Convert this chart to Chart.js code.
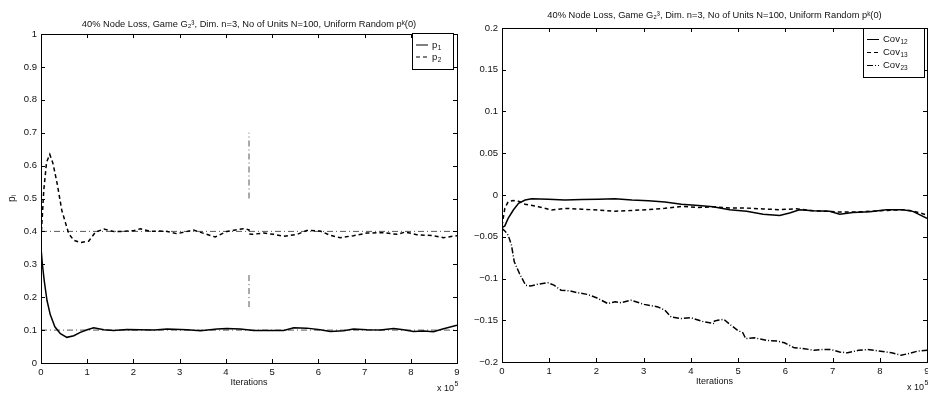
<!DOCTYPE html>
<html>
<head>
<meta charset="utf-8">
<script src="https://cdn.jsdelivr.net/npm/chart.js@4.4.0/dist/chart.umd.min.js"></script>
<style>
  html, body { margin: 0; padding: 0; background: #fff; }
  #wrap { position: relative; width: 928px; height: 395px; overflow: hidden; }
  #left { position: absolute; left: 0; top: 0; }
  #right { position: absolute; left: 464px; top: 0; }
</style>
</head>
<body>
<div id="wrap">
  <canvas id="left" width="464" height="395"></canvas>
  <canvas id="right" width="470" height="395"></canvas>
</div>
<script>
// iterations are in units of 1e5
const titleText = "40% Node Loss, Game G\u2082\u00B3, Dim. n=3, No of Units N=100, Uniform Random p\u1D4F(0)";

const p1Iter = [0, 0.03, 0.07, 0.13, 0.2, 0.3, 0.42, 0.56, 0.71, 0.85, 1.0, 1.14, 1.36, 1.57, 1.86, 2.15, 2.45, 2.73, 3.16, 3.45, 3.81, 4.02, 4.31, 4.6, 4.89, 5.25, 5.47, 5.75, 6.04, 6.26, 6.55, 6.76, 7.05, 7.34, 7.63, 7.84, 8.06, 8.28, 8.49, 8.71, 9];
const p1Vals = [0.35, 0.30, 0.25, 0.19, 0.147, 0.11, 0.089, 0.078, 0.083, 0.093, 0.101, 0.107, 0.101, 0.099, 0.102, 0.101, 0.100, 0.103, 0.101, 0.098, 0.103, 0.105, 0.103, 0.099, 0.099, 0.099, 0.107, 0.106, 0.101, 0.096, 0.098, 0.103, 0.101, 0.100, 0.105, 0.101, 0.096, 0.097, 0.095, 0.104, 0.115];

const p2Iter = [0, 0.03, 0.06, 0.12, 0.19, 0.26, 0.35, 0.45, 0.6, 0.71, 0.85, 1.03, 1.18, 1.36, 1.57, 1.79, 2.0, 2.15, 2.36, 2.55, 2.73, 2.94, 3.1, 3.3, 3.52, 3.77, 4.02, 4.2, 4.38, 4.5, 4.5, 4.56, 4.82, 5.03, 5.25, 5.54, 5.75, 6.04, 6.26, 6.47, 6.76, 7.05, 7.41, 7.7, 7.88, 8.13, 8.49, 8.71, 9];
const p2Vals = [0.38, 0.45, 0.525, 0.61, 0.634, 0.606, 0.545, 0.464, 0.393, 0.373, 0.366, 0.37, 0.398, 0.407, 0.4, 0.4, 0.402, 0.408, 0.4, 0.401, 0.4, 0.393, 0.398, 0.404, 0.394, 0.383, 0.4, 0.404, 0.408, 0.405, 0.392, 0.391, 0.395, 0.391, 0.385, 0.391, 0.403, 0.401, 0.388, 0.381, 0.387, 0.395, 0.396, 0.391, 0.398, 0.39, 0.387, 0.381, 0.387];

const targetP = [0.1, 0.4];
const lossIter = 4.5;
const lossMarkers = [[0.5, 0.7], [0.17, 0.27]];

const cov12Iter = [0, 0.06, 0.13, 0.24, 0.35, 0.49, 0.63, 0.98, 1.33, 1.69, 2.04, 2.39, 2.75, 3.1, 3.45, 3.8, 4.16, 4.47, 4.82, 5.18, 5.53, 5.88, 6.09, 6.3, 6.59, 6.94, 7.15, 7.43, 7.79, 8.14, 8.49, 8.7, 9];
const cov12Vals = [-0.039, -0.037, -0.028, -0.018, -0.01, -0.006, -0.0045, -0.005, -0.006, -0.0055, -0.005, -0.0045, -0.006, -0.007, -0.0085, -0.011, -0.0125, -0.014, -0.0176, -0.0196, -0.023, -0.0245, -0.0216, -0.0176, -0.019, -0.0196, -0.023, -0.021, -0.02, -0.0176, -0.0176, -0.0196, -0.028];

const cov13Iter = [0, 0.06, 0.13, 0.24, 0.35, 0.49, 0.77, 1.05, 1.33, 1.69, 2.04, 2.39, 2.75, 3.1, 3.45, 3.8, 4.16, 4.47, 4.82, 5.18, 5.53, 5.88, 6.23, 6.59, 6.94, 7.15, 7.43, 7.79, 8.14, 8.49, 8.7, 9];
const cov13Vals = [-0.037, -0.016, -0.008, -0.0065, -0.0075, -0.011, -0.014, -0.018, -0.016, -0.017, -0.018, -0.0195, -0.0185, -0.0175, -0.016, -0.0136, -0.015, -0.014, -0.0155, -0.0157, -0.0167, -0.0176, -0.0165, -0.019, -0.0196, -0.0205, -0.0205, -0.0196, -0.0185, -0.0176, -0.019, -0.024];

const cov23Iter = [0, 0.06, 0.13, 0.2, 0.26, 0.37, 0.5, 0.61, 0.75, 0.97, 1.1, 1.25, 1.45, 1.6, 1.8, 2.0, 2.24, 2.4, 2.52, 2.73, 3.01, 3.3, 3.45, 3.58, 3.8, 4.0, 4.28, 4.5, 4.5, 4.57, 4.7, 4.85, 4.99, 5.1, 5.16, 5.34, 5.6, 5.84, 5.98, 6.19, 6.4, 6.61, 6.8, 6.96, 7.15, 7.32, 7.55, 7.74, 8.02, 8.25, 8.45, 8.6, 8.8, 9];
const cov23Vals = [-0.04, -0.043, -0.048, -0.06, -0.08, -0.094, -0.108, -0.109, -0.107, -0.105, -0.108, -0.114, -0.115, -0.117, -0.119, -0.123, -0.13, -0.128, -0.129, -0.126, -0.131, -0.134, -0.138, -0.146, -0.148, -0.147, -0.152, -0.154, -0.151, -0.150, -0.149, -0.156, -0.162, -0.165, -0.172, -0.171, -0.174, -0.175, -0.177, -0.183, -0.184, -0.186, -0.185, -0.185, -0.188, -0.189, -0.186, -0.185, -0.187, -0.189, -0.192, -0.19, -0.187, -0.186];

const FONT = '"Liberation Sans", Arial, sans-serif';
const INK = '#111';
Chart.defaults.font.family = FONT;
Chart.defaults.color = INK;

function pts(xs, ys) {
  return xs.map((x, i) => ({ x: x, y: ys[i] }));
}

// MATLAB-like tick text: 1 not 1.0, real minus sign
function tickText(v) {
  return String(Number(v.toFixed(2))).replace('-', '\u2212');
}

// box around the plot, ticks pointing inwards, and the x 10^5 note
const frame = {
  id: 'frame',
  afterDatasetsDraw(chart) {
    const { ctx, chartArea: a, scales: { x, y } } = chart;
    ctx.save();
    ctx.strokeStyle = '#000';
    ctx.lineWidth = 1;
    ctx.setLineDash([]);
    ctx.strokeRect(Math.round(a.left) + 0.5, Math.round(a.top) + 0.5, Math.round(a.width), Math.round(a.height));
    ctx.beginPath();
    x.ticks.forEach(t => {
      const px = Math.round(x.getPixelForValue(t.value)) + 0.5;
      ctx.moveTo(px, a.bottom); ctx.lineTo(px, a.bottom - 4);
      ctx.moveTo(px, a.top); ctx.lineTo(px, a.top + 4);
    });
    y.ticks.forEach(t => {
      const py = Math.round(y.getPixelForValue(t.value)) + 0.5;
      ctx.moveTo(a.left, py); ctx.lineTo(a.left + 4, py);
      ctx.moveTo(a.right, py); ctx.lineTo(a.right - 4, py);
    });
    ctx.stroke();
    ctx.fillStyle = INK;
    ctx.textBaseline = 'alphabetic';
    ctx.font = '9px ' + FONT;
    const bx = a.right - 20, by = a.bottom + 28;
    ctx.fillText('x 10', bx, by);
    const w = ctx.measureText('x 10').width;
    ctx.font = '7px ' + FONT;
    ctx.fillText('5', bx + w + 0.5, by - 5);
    ctx.restore();
  }
};

// legend box inside the top right corner
const boxLegend = {
  id: 'boxLegend',
  afterDatasetsDraw(chart, args, opts) {
    const { ctx, chartArea: a } = chart;
    const items = chart.data.datasets.filter(d => d.label);
    const w = opts.width;
    const h = opts.rowHeight * items.length + opts.pad * 2;
    const left = Math.round(a.right - opts.inset - w);
    const top = Math.round(a.top + opts.top);
    ctx.save();
    ctx.fillStyle = '#fff';
    ctx.fillRect(left, top, w, h);
    ctx.strokeStyle = '#000';
    ctx.lineWidth = 1;
    ctx.strokeRect(left + 0.5, top + 0.5, w, h);
    items.forEach((d, i) => {
      const cy = top + opts.pad + opts.rowHeight * (i + 0.5);
      ctx.setLineDash(d.borderDash || []);
      ctx.beginPath();
      ctx.moveTo(left + 4, cy);
      ctx.lineTo(left + 4 + opts.sample, cy);
      ctx.stroke();
      const parts = d.label.split('_');
      const tx = left + 4 + opts.sample + 4;
      ctx.fillStyle = INK;
      ctx.textBaseline = 'middle';
      ctx.font = '9.5px ' + FONT;
      ctx.fillText(parts[0], tx, cy);
      const bw = ctx.measureText(parts[0]).width;
      ctx.font = '6.5px ' + FONT;
      ctx.fillText(parts[1], tx + bw + 0.5, cy + 3);
    });
    ctx.restore();
  }
};

function curve(label, xs, ys, dash) {
  return {
    label: label,
    data: pts(xs, ys),
    borderColor: '#000',
    borderWidth: 1.5,
    borderDash: dash,
    pointRadius: 0,
    tension: 0
  };
}

function refLine(data) {
  return {
    label: '',
    data: data,
    borderColor: '#444',
    borderWidth: 0.9,
    borderDash: [6, 3, 1, 3],
    pointRadius: 0
  };
}

const tickFont = { size: 9.5, family: FONT };
const titleFont = { size: 9.3, weight: 'normal', family: FONT, lineHeight: '12px' };

// ---------- left chart ----------
const leftSets = [
  curve('p_1', p1Iter, p1Vals, []),
  curve('p_2', p2Iter, p2Vals, [4, 3])
];
targetP.forEach(v => leftSets.push(refLine([{ x: 0, y: v }, { x: 9, y: v }])));
lossMarkers.forEach(m => leftSets.push(refLine([{ x: lossIter, y: m[0] }, { x: lossIter, y: m[1] }])));

new Chart(document.getElementById('left'), {
  type: 'line',
  data: { datasets: leftSets },
  options: {
    responsive: false,
    animation: false,
    layout: { padding: { top: 10, right: 7, left: 0, bottom: 0 } },
    plugins: {
      legend: { display: false },
      tooltip: { enabled: false },
      title: {
        display: true,
        text: titleText,
        fullSize: false,
        color: INK,
        font: titleFont,
        padding: { top: 8, bottom: 4 }
      },
      boxLegend: { width: 41, rowHeight: 12, pad: 6, inset: 4, top: -1, sample: 12 }
    },
    scales: {
      x: {
        type: 'linear',
        min: 0,
        max: 9,
        afterFit: s => { s.height = 32; },
        grid: { display: false, drawTicks: false },
        border: { display: false },
        ticks: { stepSize: 1, padding: 4, maxRotation: 0, font: tickFont },
        title: { display: true, text: 'Iterations', font: { size: 9, family: FONT, lineHeight: '12px' }, padding: { top: 0, bottom: 6 } }
      },
      y: {
        min: 0,
        max: 1,
        afterFit: s => { s.width = 41; },
        grid: { display: false, drawTicks: false },
        border: { display: false },
        ticks: { stepSize: 0.1, padding: 4, font: tickFont, callback: tickText },
        title: { display: true, text: 'p\u1D62', font: { size: 10, family: FONT, lineHeight: '12px' }, padding: { top: 6, bottom: 0 } }
      }
    }
  },
  plugins: [frame, boxLegend]
});

// ---------- right chart ----------
const rightSets = [
  curve('Cov_12', cov12Iter, cov12Vals, []),
  curve('Cov_13', cov13Iter, cov13Vals, [4, 3]),
  curve('Cov_23', cov23Iter, cov23Vals, [6, 2, 1, 2])
];

new Chart(document.getElementById('right'), {
  type: 'line',
  data: { datasets: rightSets },
  options: {
    responsive: false,
    animation: false,
    layout: { padding: { top: 2, right: 7, left: 0, bottom: 0 } },
    plugins: {
      legend: { display: false },
      tooltip: { enabled: false },
      title: {
        display: true,
        text: titleText,
        fullSize: false,
        color: INK,
        font: titleFont,
        padding: { top: 7, bottom: 7 }
      },
      boxLegend: { width: 61, rowHeight: 13, pad: 5, inset: 3, top: 0, sample: 12 }
    },
    scales: {
      x: {
        type: 'linear',
        min: 0,
        max: 9,
        afterFit: s => { s.height = 33; },
        grid: { display: false, drawTicks: false },
        border: { display: false },
        ticks: { stepSize: 1, padding: 4, maxRotation: 0, font: tickFont },
        title: { display: true, text: 'Iterations', font: { size: 9, family: FONT, lineHeight: '12px' }, padding: { top: 0, bottom: 7 } }
      },
      y: {
        min: -0.2,
        max: 0.2,
        afterFit: s => { s.width = 38; },
        grid: { display: false, drawTicks: false },
        border: { display: false },
        ticks: { stepSize: 0.05, padding: 4, font: tickFont, callback: tickText }
      }
    }
  },
  plugins: [frame, boxLegend]
});
</script>
</body>
</html>
